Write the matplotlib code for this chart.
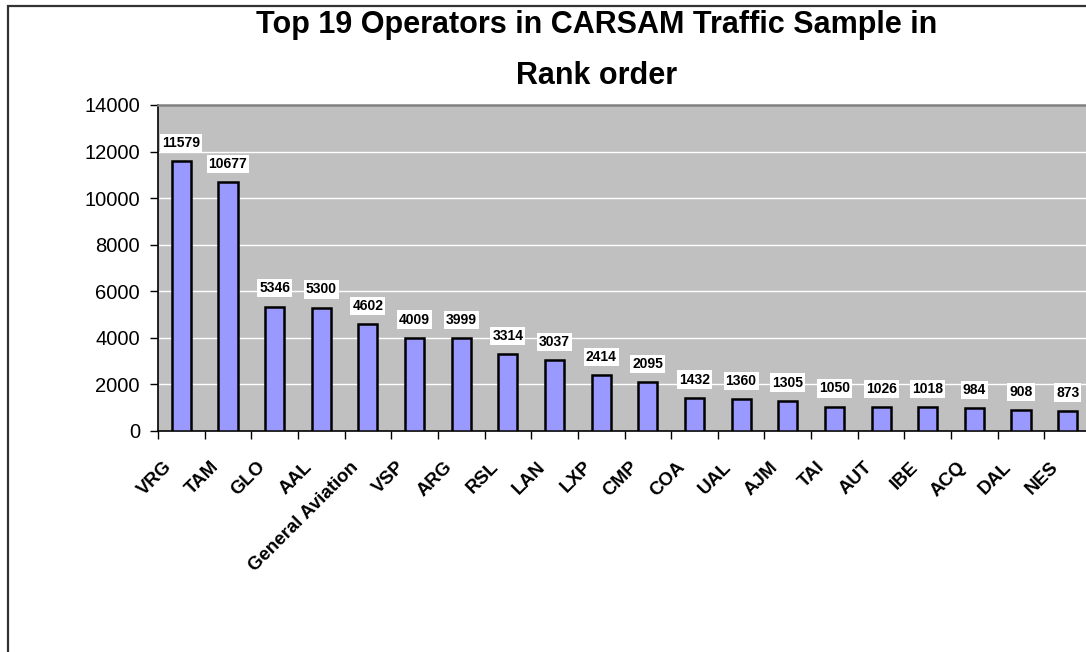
import numpy as np
import matplotlib
matplotlib.use("Agg")
import matplotlib.pyplot as plt
import matplotlib.patches as mpatches
from matplotlib.transforms import ScaledTranslation

operators = ["VRG", "TAM", "GLO", "AAL", "General Aviation", "VSP", "ARG", "RSL", "LAN", "LXP",
             "CMP", "COA", "UAL", "AJM", "TAI", "AUT", "IBE", "ACQ", "DAL", "NES"]
flights = [11579, 10677, 5346, 5300, 4602, 4009, 3999, 3314, 3037, 2414,
           2095, 1432, 1360, 1305, 1050, 1026, 1018, 984, 908, 873]
yTicks = [0, 2000, 4000, 6000, 8000, 10000, 12000, 14000]

plt.rcParams["font.family"] = ["Liberation Sans", "DejaVu Sans"]

W, H = 1086, 652
figure = plt.figure(figsize=(W / 100, H / 100), dpi=100)

# outer chart frame, cut off at right and bottom like the original
frame = mpatches.Rectangle((7.5 / W, -0.5), 2.0, 1 - 5.5 / H + 0.5, transform=figure.transFigure,
                           facecolor="none", edgecolor="#333333", linewidth=1.6, clip_on=False)
figure.patches.append(frame)

left, right, top, bottom = 158, 1091, 105, 431
ax = figure.add_axes([left / W, 1 - bottom / H, (right - left) / W, (bottom - top) / H])
ax.set_facecolor("#C0C0C0")

x = np.arange(len(operators))
ax.bar(x, flights, width=0.41, color="#9999FF", edgecolor="black", linewidth=1.8, zorder=3)

for xi, v in zip(x, flights):
    ax.annotate(str(v), xy=(xi, v), xytext=(0, 8), textcoords="offset points", ha="center", va="bottom",
                fontsize=10, fontweight="bold", zorder=4,
                bbox=dict(facecolor="white", edgecolor="none", pad=1.5))

ax.set_xlim(-0.5, len(operators) - 0.5)
ax.set_ylim(0, 14000)
ax.set_yticks(yTicks)
ax.set_yticklabels([str(t) for t in yTicks], fontsize=14.5)
ax.yaxis.grid(True, color="white", linewidth=1.0, zorder=0)
ax.set_axisbelow(True)

ax.set_xticks(x)
ax.set_xticklabels(operators, rotation=45, ha="right", va="center", rotation_mode="anchor",
                   fontsize=13.5, fontweight="bold")
ax.set_xticks(np.arange(len(operators) + 1) - 0.5, minor=True)
ax.tick_params(axis="x", which="major", length=0, pad=24)
ax.tick_params(axis="x", which="minor", length=6, width=1, direction="out")
ax.tick_params(axis="y", length=6, width=1, direction="out", pad=7)
shift = ScaledTranslation(-12 / 100, 0, figure.dpi_scale_trans)
for lab in ax.get_xticklabels():
    lab.set_transform(lab.get_transform() + shift)

ax.spines["left"].set_color("black")
ax.spines["bottom"].set_color("black")
ax.spines["left"].set_linewidth(1.2)
ax.spines["bottom"].set_linewidth(1.2)
ax.spines["top"].set_color("#808080")
ax.spines["top"].set_linewidth(1.8)
ax.spines["right"].set_visible(False)

figure.text(597 / W, 1 - 33 / H, "Top 19 Operators in CARSAM Traffic Sample in",
            ha="center", va="baseline", fontsize=22, fontweight="bold")
figure.text(597 / W, 1 - 84 / H, "Rank order",
            ha="center", va="baseline", fontsize=22, fontweight="bold")

figure.savefig("out.png", dpi=100)
plt.close()
